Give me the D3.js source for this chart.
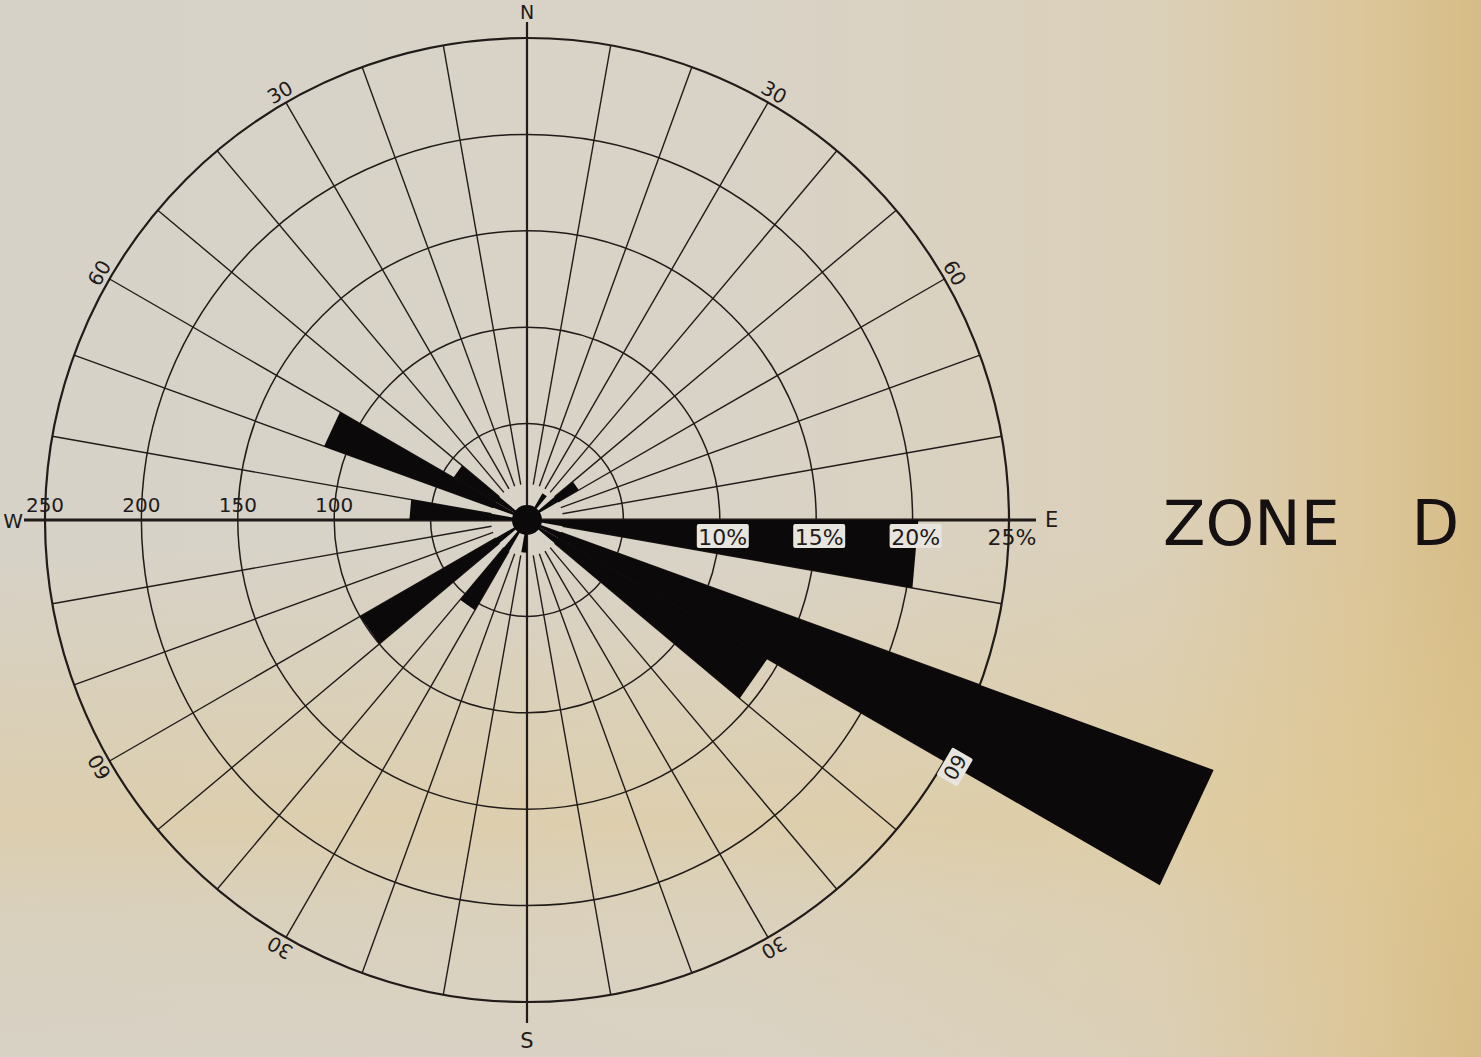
<!DOCTYPE html>
<html>
<head>
<meta charset="utf-8">
<style>
  body { margin: 0; background: #d8d2c6; }
  svg { display: block; font-family: "DejaVu Sans", sans-serif; }
</style>
<script src="https://cdn.jsdelivr.net/npm/d3@7"></script>
</head>
<body>
<svg width="1481" height="1057"></svg>
<script>
// 10 degree sectors, bearing of sector start (clockwise from north)
var sectorStart = [0, 10, 20, 30, 40, 50, 60, 70, 80, 90,
                   100, 110, 120, 130, 140, 150, 160, 170, 180, 190,
                   200, 210, 220, 230, 240, 250, 260, 270, 280, 290,
                   300, 310, 320, 330, 340, 350];
var sectorPct = [0, 0, 0, 1.6, 0, 3.1, 0, 0, 0, 20.3,
                 0, 37.9, 14.4, 0, 0, 0, 0, 0, 1.7, 0,
                 0, 5.4, 0, 10.0, 0, 0, 0, 6.1, 0, 11.2,
                 4.4, 0, 0, 0, 0, 0];

var ringPct = [5, 10, 15, 20, 25];
var westTickPct = [10, 15, 20, 25];
var westTickLabels = ["100", "150", "200", "250"];
var eastTickPct = [10, 15, 20, 25];
var eastTickLabels = ["10%", "15%", "20%", "25%"];
var rimAngles = [30, 60, 120, 150, 210, 240, 300, 330];
var rimLabels = ["30", "60", "60", "30", "30", "60", "60", "30"];
var compass = ["N", "E", "S", "W"];
var title = "ZONE D";

var svg = d3.select("svg"),
    width = +svg.attr("width"),
    height = +svg.attr("height");

var cx = 527, cy = 520, R = 482;
var ink = "#211b19", barInk = "#0c090a";

// paper
var defs = svg.append("defs");
var paper = defs.append("linearGradient").attr("id", "paper")
    .attr("x1", 0).attr("x2", 1).attr("y1", 0).attr("y2", 0);
[[0, "#d7d2c8"], [0.5, "#d9d3c7"], [0.78, "#dbd0b9"], [0.92, "#dcc69a"], [1, "#d6bc86"]]
  .forEach(function(s) { paper.append("stop").attr("offset", s[0]).attr("stop-color", s[1]); });
var band = defs.append("linearGradient").attr("id", "band")
    .attr("x1", 0).attr("x2", 0).attr("y1", 0).attr("y2", 1);
[[0, 0], [0.52, 0], [0.66, 0.25], [0.78, 0.45], [0.86, 0.2], [1, 0.05]]
  .forEach(function(s) { band.append("stop").attr("offset", s[0]).attr("stop-color", "#e2c98e").attr("stop-opacity", s[1]); });

svg.append("rect").attr("width", width).attr("height", height).attr("fill", "url(#paper)");
svg.append("rect").attr("width", width).attr("height", height).attr("fill", "url(#band)");

var r = d3.scaleLinear().domain([0, 25]).range([0, R]);
var rad = function(a) { return a * Math.PI / 180; };
var px = function(a, rr) { return Math.sin(rad(a)) * rr; };
var py = function(a, rr) { return -Math.cos(rad(a)) * rr; };

var g = svg.append("g").attr("transform", "translate(" + cx + "," + cy + ")");

// grid: rings
g.selectAll(".ring").data(ringPct).enter().append("circle")
    .attr("class", "ring")
    .attr("r", function(d) { return r(d); })
    .attr("fill", "none")
    .attr("stroke", ink)
    .attr("stroke-width", function(d, i) { return i == ringPct.length - 1 ? 2.2 : 1.5; });

// grid: spokes every 10 degrees (axes drawn separately)
g.selectAll(".spoke").data(sectorStart.filter(function(a) { return a % 90 != 0; }))
  .enter().append("line")
    .attr("class", "spoke")
    .attr("x1", function(a) { return px(a, 36); })
    .attr("y1", function(a) { return py(a, 36); })
    .attr("x2", function(a) { return px(a, R); })
    .attr("y2", function(a) { return py(a, R); })
    .attr("stroke", ink)
    .attr("stroke-width", 1.4);

// main axes
var ext = 21;
g.append("line").attr("x1", 0).attr("x2", 0).attr("y1", -R - 16).attr("y2", R + ext)
    .attr("stroke", ink).attr("stroke-width", 2.2);
g.append("line").attr("x1", -R - ext).attr("x2", R + ext + 6).attr("y1", 0).attr("y2", 0)
    .attr("stroke", ink).attr("stroke-width", 3.2);

// bars: flat-ended wedges
var bars = sectorStart.map(function(a, i) { return {a: a, v: sectorPct[i]}; })
    .filter(function(d) { return d.v > 0; });
var wedge = d3.lineRadial()
    .angle(function(p) { return p[0]; })
    .radius(function(p) { return p[1]; })
    .curve(d3.curveLinearClosed);
g.selectAll(".bar").data(bars).enter().append("path")
    .attr("class", "bar")
    .attr("d", function(d) {
      return wedge([[0, 0], [rad(d.a), r(d.v)], [rad(d.a + 10), r(d.v)]]);
    })
    .attr("fill", barInk);
g.append("circle").attr("r", 15).attr("fill", barInk);

// helper: bar length (pct) of sector containing bearing a
function pctAt(a) {
  var i = sectorStart.indexOf(Math.floor(((a % 360) + 360) % 360 / 10) * 10);
  return sectorPct[i];
}

// west scale labels (counts)
g.selectAll(".wlab").data(westTickPct).enter().append("text")
    .attr("x", function(d) { return -r(d); })
    .attr("y", -8)
    .attr("text-anchor", "middle")
    .attr("font-size", 20)
    .attr("fill", ink)
    .text(function(d, i) { return westTickLabels[i]; });

// east scale labels (percent), boxed where they sit on a bar
var elab = g.selectAll(".elab").data(eastTickPct).enter().append("g")
    .attr("transform", function(d) { return "translate(" + (r(d) + 3) + ",0)"; });
elab.filter(function(d) { return pctAt(92) >= d; }).append("rect")
    .attr("x", -26).attr("y", 4).attr("width", 52).attr("height", 24).attr("rx", 2)
    .attr("fill", "#e8e5de");
elab.append("text")
    .attr("y", 25)
    .attr("text-anchor", "middle")
    .attr("font-size", 22)
    .attr("fill", ink)
    .text(function(d, i) { return eastTickLabels[i]; });

// rim bearing labels
var rim = g.selectAll(".rim").data(rimAngles).enter().append("g")
    .attr("transform", function(a) {
      return "translate(" + px(a, R + 12) + "," + py(a, R + 12) + ") rotate(" + a + ")";
    });
rim.filter(function(a) { return r(Math.max(pctAt(a - 1), pctAt(a + 1))) > R; }).append("rect")
    .attr("x", -16).attr("y", -12).attr("width", 32).attr("height", 24).attr("rx", 2)
    .attr("fill", "#e8e5de");
rim.append("text")
    .attr("text-anchor", "middle")
    .attr("dy", "0.36em")
    .attr("font-size", 20)
    .attr("fill", ink)
    .text(function(a, i) { return rimLabels[i]; });

// compass letters
g.append("text").attr("x", 0).attr("y", -R - 19).attr("text-anchor", "middle")
    .attr("font-size", 19).attr("fill", ink).text(compass[0]);
g.append("text").attr("x", R + 36).attr("y", 7).attr("text-anchor", "start")
    .attr("font-size", 21).attr("fill", ink).text(compass[1]);
g.append("text").attr("x", 0).attr("y", R + 46).attr("text-anchor", "middle")
    .attr("font-size", 21).attr("fill", ink).text(compass[2]);
g.append("text").attr("x", -R - 22).attr("y", 8).attr("text-anchor", "end")
    .attr("font-size", 20).attr("fill", ink).text(compass[3]);

// title
svg.append("text")
    .attr("x", 1163).attr("y", 545)
    .attr("font-size", 62)
    .attr("word-spacing", 52)
    .attr("fill", "#151112")
    .text(title);
</script>
</body>
</html>
